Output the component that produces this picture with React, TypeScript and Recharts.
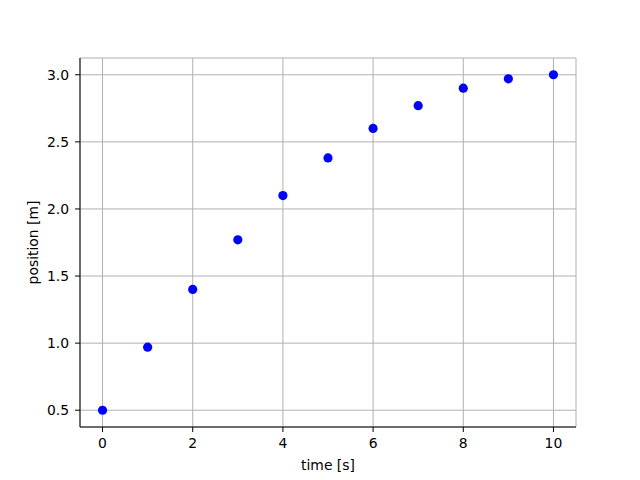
import React from 'react';
import { ScatterChart, Scatter, XAxis, YAxis, CartesianGrid } from 'recharts';

const times = [0, 1, 2, 3, 4, 5, 6, 7, 8, 9, 10];
const positions = [0.5, 0.97, 1.4, 1.77, 2.1, 2.38, 2.6, 2.77, 2.9, 2.97, 3.0];
const xTicks = [0, 2, 4, 6, 8, 10];
const yTicks = [0.5, 1.0, 1.5, 2.0, 2.5, 3.0];

const data = times.map((t, i) => ({ t, pos: positions[i] }));

const font = 'DejaVu Sans, sans-serif';
const tickStyle = { fill: '#000', fontSize: 13.9, fontFamily: font };
const labelStyle = { fill: '#000', fontSize: 13.9, fontFamily: font };

const Dot = (props: any) => <circle cx={props.cx} cy={props.cy} r={4.6} fill="#0000ff" />;

const App: React.FC = () => {
  return (
    <div style={{ position: 'absolute', left: 0, top: 0, width: 640, height: 480, background: '#fff' }}>
      <ScatterChart width={640} height={480} margin={{ top: 58, right: 64, left: 0, bottom: 0 }}>
        <CartesianGrid stroke="#b0b0b0" strokeWidth={1} />
        <XAxis
          type="number"
          dataKey="t"
          domain={[-0.5, 10.5]}
          ticks={xTicks}
          allowDataOverflow
          height={53}
          stroke="#000"
          tickSize={5}
          tickMargin={6}
          tick={tickStyle}
          label={{ value: 'time [s]', position: 'insideBottom', offset: 10, style: labelStyle }}
        />
        <XAxis xAxisId="top" orientation="top" type="number" domain={[-0.5, 10.5]} height={0} tick={false} tickLine={false} stroke="#000" />
        <YAxis
          type="number"
          dataKey="pos"
          domain={[0.375, 3.125]}
          ticks={yTicks}
          allowDataOverflow
          width={80}
          stroke="#000"
          tickSize={5}
          tickMargin={6}
          tick={tickStyle}
          tickFormatter={(v: number) => v.toFixed(1)}
          label={{ value: 'position [m]', angle: -90, position: 'insideLeft', offset: 33, style: { ...labelStyle, textAnchor: 'middle' } }}
        />
        <YAxis yAxisId="right" orientation="right" type="number" domain={[0.375, 3.125]} width={0} tick={false} tickLine={false} stroke="#000" />
        <Scatter data={data} shape={<Dot />} isAnimationActive={false} />
      </ScatterChart>
    </div>
  );
};

export default App;
